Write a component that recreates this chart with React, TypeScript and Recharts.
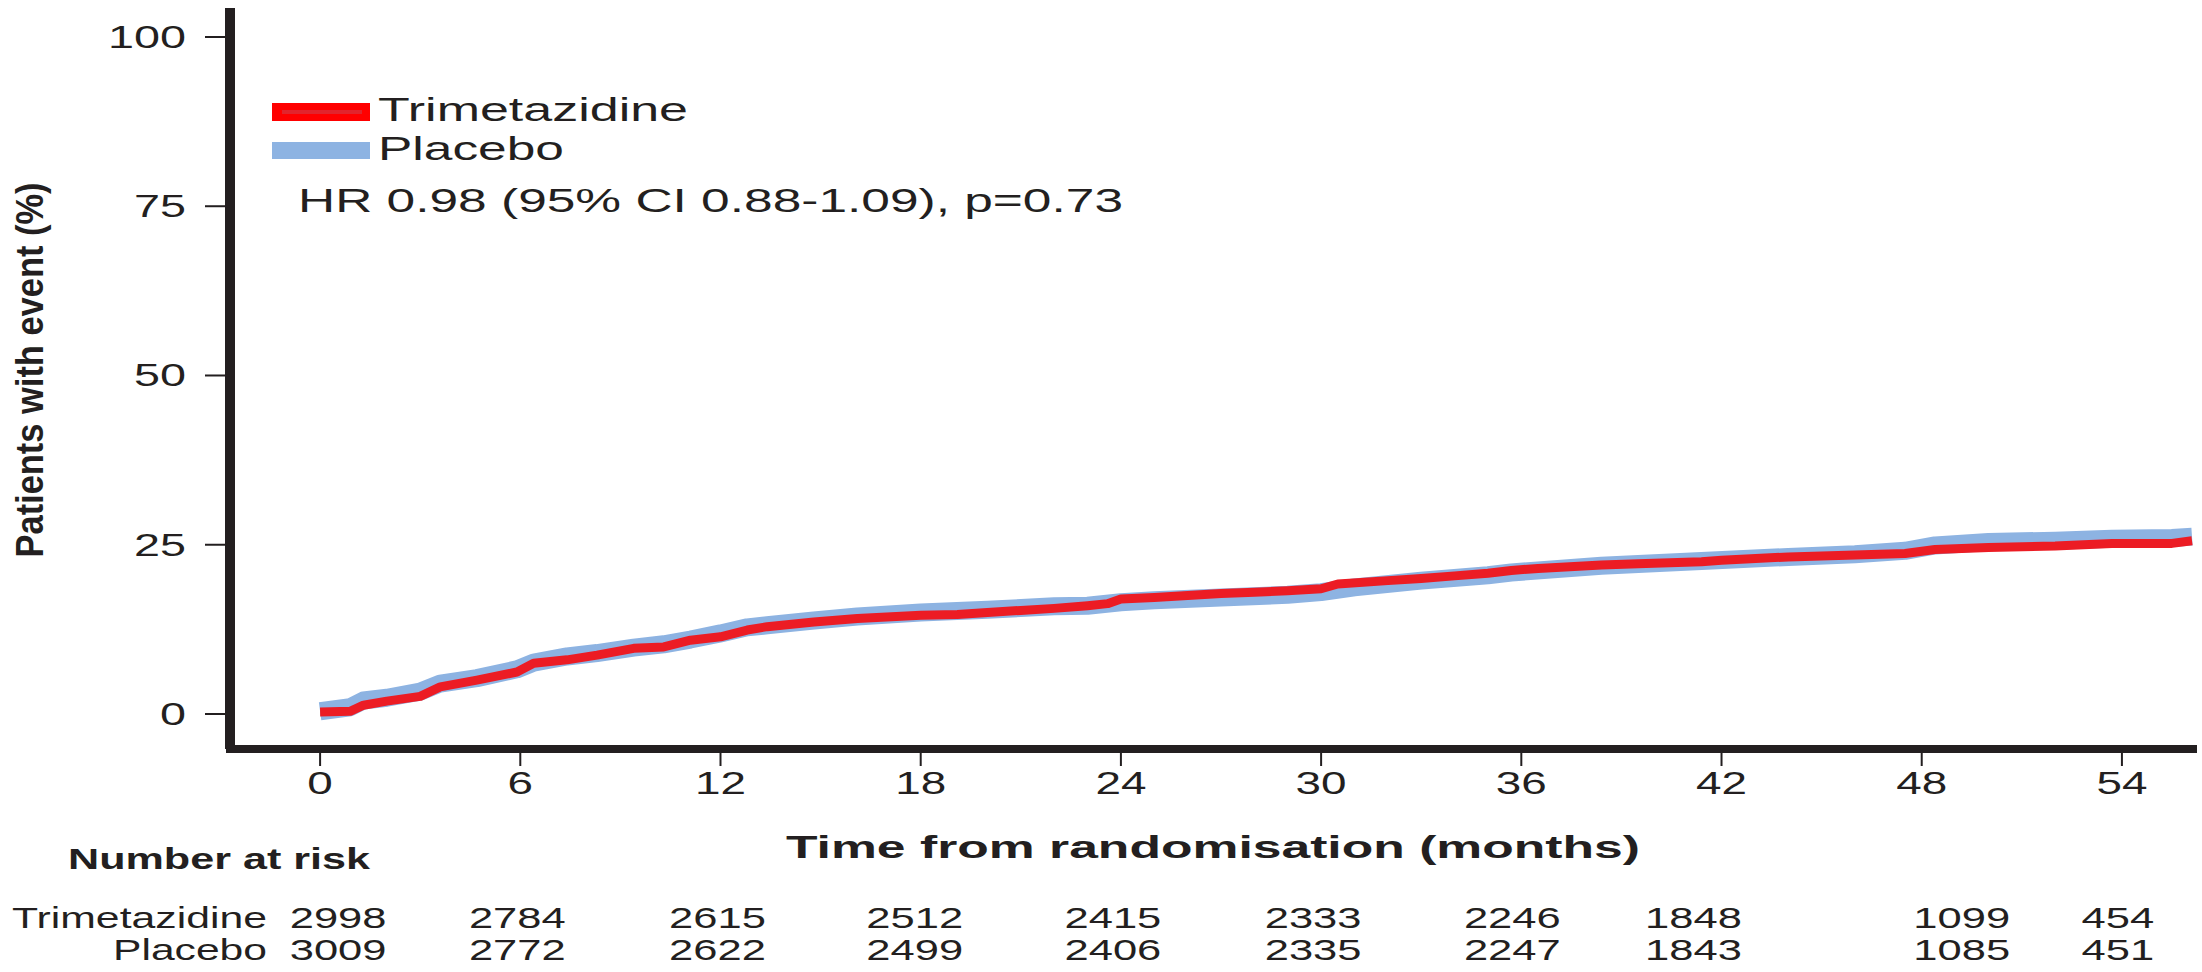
import { LineChart, Line, XAxis, YAxis } from "recharts";

// ── Data ───────────────────────────────────────────────────────────────────
const monthTicks = [0, 6, 12, 18, 24, 30, 36, 42, 48, 54];
const percentTicks = [0, 25, 50, 75, 100];

const trimetazidineMonths = [0, 0.9, 1.3, 2, 3, 3.6, 4.7, 5.9, 6.4, 7.4, 8.3, 9.4, 10.3, 11.1, 12, 12.8, 13.4, 14.8, 16.1, 18, 19.1, 20, 21, 22, 23, 23.6, 24, 25, 26, 27, 28, 29, 30, 30.5, 32, 33, 34, 35, 35.7, 36.5, 38.4, 39.5, 41.4, 42, 44, 46, 47.5, 48.4, 50, 52, 53.7, 55.5, 56.1];
const trimetazidinePct = [0.3, 0.4, 1.3, 1.9, 2.6, 4.0, 5.0, 6.2, 7.5, 8.0, 8.7, 9.7, 9.9, 10.9, 11.4, 12.4, 12.9, 13.6, 14.1, 14.6, 14.7, 15.0, 15.3, 15.6, 16.0, 16.3, 17.0, 17.2, 17.5, 17.8, 18.0, 18.2, 18.5, 19.2, 19.7, 20.0, 20.4, 20.8, 21.2, 21.5, 22.0, 22.2, 22.5, 22.7, 23.2, 23.5, 23.7, 24.3, 24.6, 24.8, 25.2, 25.2, 25.6];

const placeboMonths = [0, 0.9, 1.3, 2, 3, 3.6, 4.7, 5.9, 6.4, 7.4, 8.3, 9.4, 10.3, 11.1, 12, 12.8, 13.4, 14.8, 16.1, 18, 20, 22, 23, 24, 25, 27, 29, 30, 31, 33, 35, 35.7, 38.4, 41.4, 44, 46, 47.5, 48.4, 50, 52, 53.7, 55.5, 56.1];
const placeboPct = [0.4, 1.0, 2.0, 2.4, 3.3, 4.5, 5.3, 6.6, 7.6, 8.5, 9.0, 9.8, 10.3, 11.0, 11.9, 12.8, 13.1, 13.8, 14.4, 15.0, 15.4, 15.9, 16.0, 16.5, 16.8, 17.2, 17.6, 18.0, 18.7, 19.7, 20.5, 20.9, 21.9, 22.6, 23.2, 23.6, 24.1, 24.9, 25.4, 25.6, 25.9, 26.0, 26.2];

const trimetazidineAtRisk = [2998, 2784, 2615, 2512, 2415, 2333, 2246, 1848, 1099, 454];
const placeboAtRisk = [3009, 2772, 2622, 2499, 2406, 2335, 2247, 1843, 1085, 451];

const trimetazidineData = trimetazidineMonths.map((t, i) => ({ t, v: trimetazidinePct[i] }));
const placeboData = placeboMonths.map((t, i) => ({ t, v: placeboPct[i] }));

// ── Layout ─────────────────────────────────────────────────────────────────
const W = 2202;
const H = 972;
const PLOT = { left: 230, right: 2193, top: 8, bottom: 749 };
const X_DOMAIN: [number, number] = [-2.7, 56.13];
const Y_DOMAIN: [number, number] = [-5.17, 104.28];
const INK = "#231f20";
const RED = "#ec1c24";
const BLUE = "#8db3e2";
const FONT = "'Liberation Sans', Arial, Helvetica, sans-serif";

// nudges of the at-risk columns relative to their tick (px)
const riskNudge = [18, -3, -3, -6, -8, -8, -9, -28, 40, -4];

const xPos = (t: number) =>
  PLOT.left + ((t - X_DOMAIN[0]) / (X_DOMAIN[1] - X_DOMAIN[0])) * (PLOT.right - PLOT.left);

function MonthTick({ x, y, payload }: any) {
  const s = String(payload.value);
  return (
    <text
      x={x}
      y={y + 26}
      textAnchor="middle"
      fontSize={31}
      fontFamily={FONT}
      fill={INK}
      textLength={s.length * 25.5}
      lengthAdjust="spacingAndGlyphs"
    >
      {s}
    </text>
  );
}

function PercentTick({ x, y, payload }: any) {
  const s = String(payload.value);
  return (
    <text
      x={x - 17}
      y={y + 11}
      textAnchor="end"
      fontSize={31}
      fontFamily={FONT}
      fill={INK}
      textLength={s.length * 26}
      lengthAdjust="spacingAndGlyphs"
    >
      {s}
    </text>
  );
}

// ── Overlay: legend, HR, axis titles, number-at-risk table ─────────────────
function Annotations() {
  const riskText = (v: number, i: number, baseline: number) => {
    const s = String(v);
    return (
      <text
        key={`${baseline}-${i}`}
        x={xPos(monthTicks[i]) + riskNudge[i]}
        y={baseline}
        textAnchor="middle"
        fontSize={30}
        fill={INK}
        textLength={s.length * 24.2}
        lengthAdjust="spacingAndGlyphs"
      >
        {s}
      </text>
    );
  };

  return (
    <svg
      width={W}
      height={H}
      style={{ position: "absolute", left: 0, top: 0, pointerEvents: "none" }}
      fontFamily={FONT}
    >
      {/* Legend */}
      <rect x={272} y={103} width={98} height={18} fill="#ff0000" />
      <rect x={282} y={110} width={80} height={4} fill="#e2242c" />
      <text x={378} y={121} fontSize={33} fill={INK} textLength={310} lengthAdjust="spacingAndGlyphs">
        Trimetazidine
      </text>
      <rect x={272} y={142} width={98} height={17} fill={BLUE} />
      <text x={378} y={160} fontSize={33} fill={INK} textLength={186} lengthAdjust="spacingAndGlyphs">
        Placebo
      </text>
      <text x={298} y={212} fontSize={33} fill={INK} textLength={825} lengthAdjust="spacingAndGlyphs">
        HR 0.98 (95% CI 0.88-1.09), p=0.73
      </text>

      {/* Y axis title */}
      <text
        transform="translate(43 370) rotate(-90) scale(1 1.13)"
        textAnchor="middle"
        fontSize={35}
        fontWeight="bold"
        fill={INK}
        textLength={375}
        lengthAdjust="spacingAndGlyphs"
      >
        Patients with event (%)
      </text>

      {/* X axis title */}
      <text x={786} y={858} fontSize={32} fontWeight="bold" fill={INK} textLength={854} lengthAdjust="spacingAndGlyphs">
        Time from randomisation (months)
      </text>

      {/* Number at risk */}
      <text x={68} y={869} fontSize={29} fontWeight="bold" fill={INK} textLength={302} lengthAdjust="spacingAndGlyphs">
        Number at risk
      </text>
      <text x={267} y={928} textAnchor="end" fontSize={30} fill={INK} textLength={255} lengthAdjust="spacingAndGlyphs">
        Trimetazidine
      </text>
      <text x={267} y={960} textAnchor="end" fontSize={30} fill={INK} textLength={154} lengthAdjust="spacingAndGlyphs">
        Placebo
      </text>
      {trimetazidineAtRisk.map((v, i) => riskText(v, i, 928))}
      {placeboAtRisk.map((v, i) => riskText(v, i, 960))}
    </svg>
  );
}

export default function App() {
  return (
    <div style={{ position: "absolute", left: 0, top: 0, width: W, height: H, background: "#fff" }}>
      <LineChart
        width={W}
        height={H}
        margin={{ top: PLOT.top, right: W - PLOT.right, left: 0, bottom: 0 }}
      >
        <XAxis
          type="number"
          dataKey="t"
          domain={X_DOMAIN}
          ticks={monthTicks}
          allowDataOverflow
          height={H - PLOT.bottom}
          axisLine={{ stroke: INK, strokeWidth: 8, strokeLinecap: "square" }}
          tickLine={{ stroke: INK, strokeWidth: 2 }}
          tickSize={17}
          tick={<MonthTick />}
          interval={0}
        />
        <YAxis
          type="number"
          domain={Y_DOMAIN}
          ticks={percentTicks}
          allowDataOverflow
          width={PLOT.left}
          axisLine={{ stroke: INK, strokeWidth: 10 }}
          tickLine={{ stroke: INK, strokeWidth: 2 }}
          tickSize={25}
          tick={<PercentTick />}
          interval={0}
        />
        <Line
          data={placeboData}
          dataKey="v"
          type="linear"
          stroke={BLUE}
          strokeWidth={18}
          strokeLinejoin="round"
          dot={false}
          activeDot={false}
          isAnimationActive={false}
        />
        <Line
          data={trimetazidineData}
          dataKey="v"
          type="linear"
          stroke={RED}
          strokeWidth={9}
          strokeLinejoin="round"
          dot={false}
          activeDot={false}
          isAnimationActive={false}
        />
      </LineChart>
      <Annotations />
    </div>
  );
}
